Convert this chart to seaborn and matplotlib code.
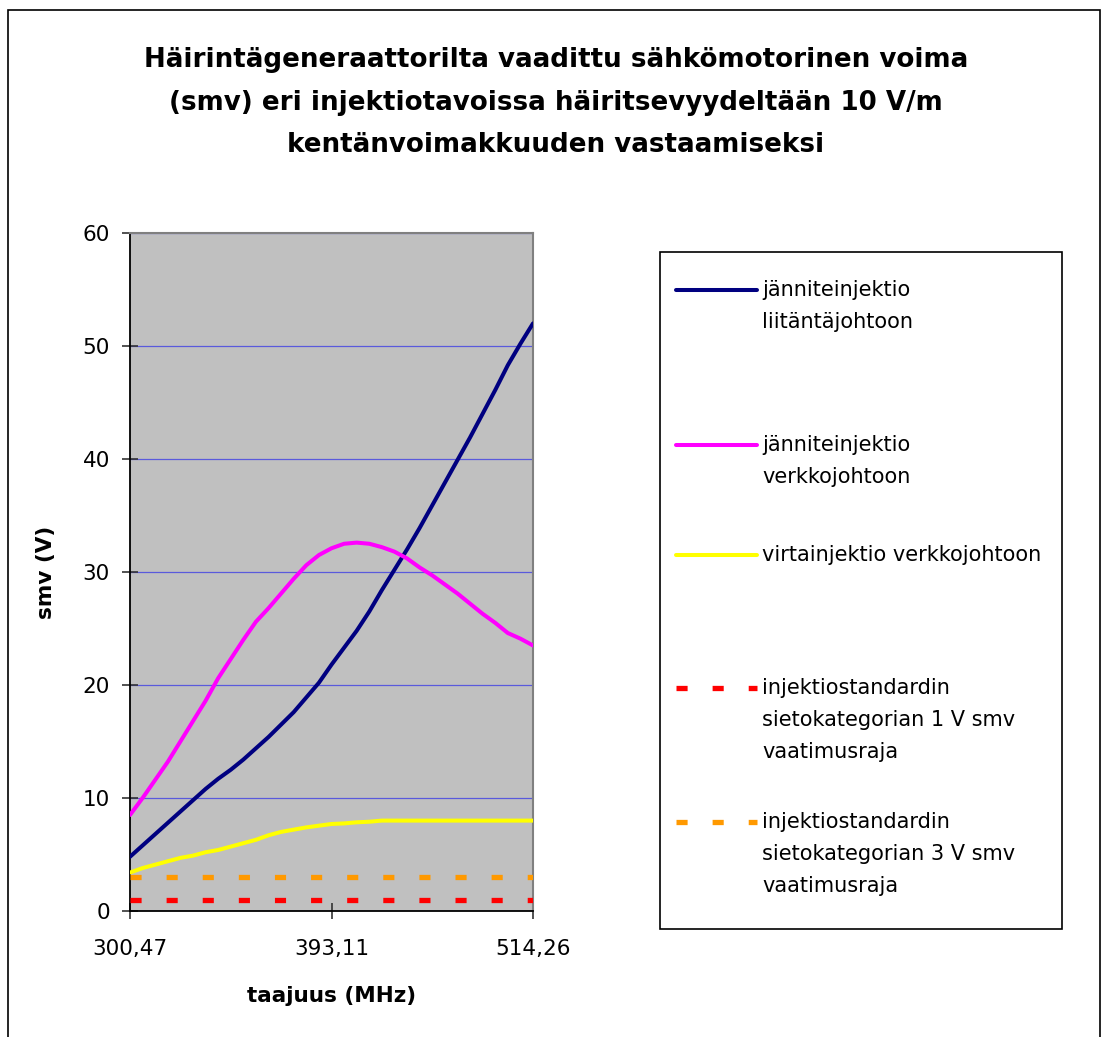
import matplotlib
matplotlib.use("Agg")
import matplotlib.pyplot as plt
import seaborn as sns
from matplotlib.lines import Line2D
from matplotlib.patches import Rectangle

# ---------------- data ----------------
x_index = list(range(33))
tick_positions = [0, 16, 32]
tick_labels = ["300,47", "393,11", "514,26"]

jannite_liitanta = [4.8, 5.8, 6.8, 7.8, 8.8, 9.8, 10.8, 11.7, 12.5, 13.4, 14.4,
                    15.4, 16.5, 17.6, 18.9, 20.2, 21.8, 23.3, 24.8, 26.5, 28.4,
                    30.2, 32.0, 33.9, 35.9, 37.9, 39.9, 41.9, 44.0, 46.1, 48.3,
                    50.2, 52.0]
jannite_verkko = [8.5, 10.0, 11.6, 13.2, 15.0, 16.8, 18.6, 20.6, 22.3, 24.0, 25.6,
                  26.8, 28.1, 29.4, 30.6, 31.5, 32.1, 32.5, 32.6, 32.5, 32.2,
                  31.8, 31.2, 30.4, 29.7, 28.9, 28.1, 27.2, 26.3, 25.5, 24.6,
                  24.1, 23.5]
virta_verkko = [3.4, 3.8, 4.1, 4.4, 4.7, 4.9, 5.2, 5.4, 5.7, 6.0, 6.3,
                6.7, 7.0, 7.2, 7.4, 7.55, 7.7, 7.75, 7.85, 7.9, 8.0,
                8.0, 8.0, 8.0, 8.0, 8.0, 8.0, 8.0, 8.0, 8.0, 8.0,
                8.0, 8.0]
raja_1v = [1.0] * 33
raja_3v = [3.0] * 33

series_labels = [
    ["jänniteinjektio", "liitäntäjohtoon"],
    ["jänniteinjektio", "verkkojohtoon"],
    ["virtainjektio verkkojohtoon"],
    ["injektiostandardin", "sietokategorian 1 V smv", "vaatimusraja"],
    ["injektiostandardin", "sietokategorian 3 V smv", "vaatimusraja"],
]
title_lines = [
    "Häirintägeneraattorilta vaadittu sähkömotorinen voima",
    "(smv) eri injektiotavoissa häiritsevyydeltään 10 V/m",
    "kentänvoimakkuuden vastaamiseksi",
]
x_label = "taajuus (MHz)"
y_label = "smv (V)"

# ---------------- style ----------------
sns.set_theme(style="white")
plt.rcParams["font.family"] = ["DejaVu Sans"]
plt.rcParams["lines.scale_dashes"] = False

W, H = 1107, 1037
fig = plt.figure(figsize=(W / 100, H / 100), dpi=100)
fig.patch.set_facecolor("white")

ax = fig.add_axes([130 / W, 1 - 911 / H, 403 / W, 678 / H])
ax.set_facecolor("#C0C0C0")

dash = (0, (8, 18))
styles = [
    (jannite_liitanta, "#000080", "-", 2.9),
    (jannite_verkko, "#FF00FF", "-", 2.9),
    (virta_verkko, "#FFFF00", "-", 2.9),
    (raja_1v, "#FF0000", dash, 3.8),
    (raja_3v, "#FF9900", dash, 3.8),
]
for vals, col, ls, lw in styles:
    sns.lineplot(x=x_index, y=vals, ax=ax, color=col, linewidth=lw,
                 linestyle=ls, legend=False, zorder=3)

ax.set_xlim(0, 32)
ax.set_ylim(0, 60)
ax.set_yticks(range(0, 61, 10))
ax.set_xticks(tick_positions)
ax.set_xticklabels(tick_labels)
ax.set_axisbelow(True)
ax.yaxis.grid(True, color="#5A5ADC", linewidth=0.9)
ax.xaxis.grid(False)

for side in ["left", "bottom"]:
    ax.spines[side].set_color("black")
    ax.spines[side].set_linewidth(1.3)
for side in ["top", "right"]:
    ax.spines[side].set_color("#808080")
    ax.spines[side].set_linewidth(1.5)
    ax.spines[side].set_visible(True)

ax.tick_params(axis="both", direction="inout", length=12, width=1.2,
               color="#333333", labelsize=15.5, labelcolor="black")
ax.tick_params(axis="y", pad=8.5, left=True)
ax.tick_params(axis="x", pad=14, bottom=True)

ax.set_xlabel(x_label, fontsize=15.5, fontweight="bold", color="black")
ax.set_ylabel(y_label, fontsize=15.5, fontweight="bold", color="black")
ax.xaxis.label.set_va("center")
ax.yaxis.label.set_va("center")
ax.xaxis.set_label_coords((332 - 130) / 403, (911 - 996) / 678)
ax.yaxis.set_label_coords((46 - 130) / 403, (911 - 572) / 678)

# title
title_y = [60, 103, 145]
for txt, yy in zip(title_lines, title_y):
    fig.text(556 / W, 1 - yy / H, txt, ha="center", va="center",
             fontsize=18.8, fontweight="bold", color="black")

# outer border
fig.add_artist(Rectangle((8 / W, -0.02), (1100 - 8) / W, 1 - 10 / H + 0.02,
                         transform=fig.transFigure, fill=False,
                         edgecolor="black", linewidth=1.2))

# legend box
fig.add_artist(Rectangle((660 / W, 1 - 929 / H), 402 / W, 677 / H,
                         transform=fig.transFigure, facecolor="white",
                         edgecolor="black", linewidth=1.2))
entry_y = [290, 445, 555, 688, 822]
for (vals, col, ls, lw), lines, yy in zip(styles, series_labels, entry_y):
    fig.add_artist(Line2D([676 / W, 757 / W], [1 - yy / H, 1 - yy / H],
                          transform=fig.transFigure, color=col,
                          linewidth=lw, linestyle=ls))
    for k, line in enumerate(lines):
        fig.text(762 / W, 1 - (yy + 32 * k) / H, line, ha="left",
                 va="center", fontsize=15, color="black")

fig.savefig("out.png", dpi=100)
